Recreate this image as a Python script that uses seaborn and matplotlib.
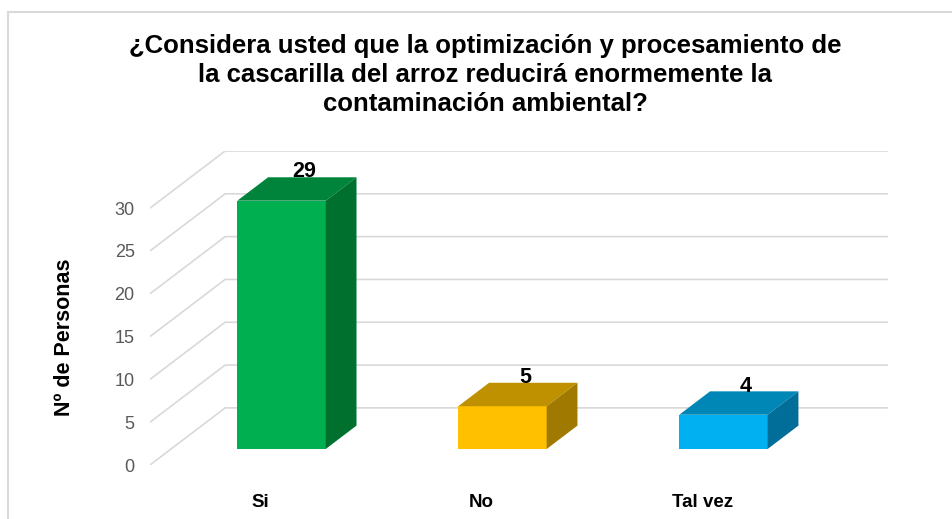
import pandas as pd
import numpy as np

import matplotlib
matplotlib.use("Agg")

import matplotlib.pyplot as plt
from matplotlib.patches import Polygon, Rectangle
import seaborn as sns

# datos
categorias = ["Si", "No", "Tal vez"]
personas = [29, 5, 4]
colores_frente = ["#00B050", "#FFC000", "#00B0F0"]
colores_tapa = ["#00843C", "#BF9000", "#0087B6"]
colores_lado = ["#00702F", "#A07A00", "#006E98"]
ticks_y = [0, 5, 10, 15, 20, 25, 30]
titulo = ("¿Considera usted que la optimización y procesamiento de\n"
          "la cascarilla del arroz reducirá enormemente la\n"
          "contaminación ambiental?")

sns.set_theme(style="white")
plt.rcParams['font.family'] = ['Liberation Sans', 'DejaVu Sans']

# perspectiva (desplazamiento del plano del fondo, en unidades de datos)
DX, DY = 0.34, 6.67
ANCHO = 0.4
P0, P1 = 0.28, 0.69  # profundidad de las barras

fig = plt.figure(figsize=(9.52, 5.19), dpi=100)
ax = fig.add_axes([150 / 952, 1 - 465 / 519, 738 / 952, 314 / 519])

df = pd.DataFrame({"cat": categorias, "n": personas})
sns.barplot(data=df, x="cat", y="n", hue="cat", palette=colores_frente,
            width=ANCHO, saturation=1, legend=False, ax=ax, zorder=3)

# caras superior y lateral
for i, p in enumerate(ax.patches):
    h = personas[i]
    w = p.get_width()
    x0 = p.get_x() + P0 * DX
    y0 = P0 * DY
    p.set_x(x0)
    p.set_y(y0)
    p.set_linewidth(0)
    dd = P1 - P0
    tapa = [(x0, h + y0), (x0 + w, h + y0),
            (x0 + w + dd * DX, h + P1 * DY), (x0 + dd * DX, h + P1 * DY)]
    lado = [(x0 + w, y0), (x0 + w + dd * DX, P1 * DY),
            (x0 + w + dd * DX, h + P1 * DY), (x0 + w, h + y0)]
    ax.add_patch(Polygon(tapa, closed=True, fc=colores_tapa[i], ec="none", zorder=4))
    ax.add_patch(Polygon(lado, closed=True, fc=colores_lado[i], ec="none", zorder=4))
    cx = x0 + w / 2 + dd * DX / 2
    cy = h + (P0 + P1) / 2 * DY
    ax.annotate(str(h), xy=(cx, cy), xytext=(7, 17), textcoords="offset pixels",
                ha="center", va="center", fontsize=15.5, fontweight="bold",
                color="black", zorder=5)

# lineas de cuadricula en perspectiva
for v in ticks_y:
    ax.plot([-0.5, -0.5 + DX, 2.5 + DX], [v, v + DY, v + DY],
            color="#D9D9D9", lw=1.2, zorder=1, solid_capstyle="butt")

ax.set_xlim(-0.5, 2.5 + DX)
ax.set_ylim(0, 30 + DY)
for s in ax.spines.values():
    s.set_visible(False)

ax.set_yticks(ticks_y)
ax.set_yticklabels([str(t) for t in ticks_y], fontsize=13, color="#595959")
ax.set_xticks(range(len(categorias)))
ax.set_xticklabels(categorias, fontsize=13.5, fontweight="bold", color="black")
ax.tick_params(axis="y", length=0, pad=11)
ax.tick_params(axis="x", length=0, pad=21)
ax.set_xlabel("")
ax.set_ylabel("")

fig.text(65 / 952, 1 - 337 / 519, "Nº de Personas", rotation=90,
         ha="center", va="center", fontsize=15.5, fontweight="bold",
         color="black")
fig.text(485 / 952, 1 - 75 / 519, titulo, ha="center", va="center",
         fontsize=18.5, fontweight="bold", linespacing=1.28, color="black")

fig.add_artist(Rectangle((8 / 952, -0.1), 1.2, 1 - 12 / 519 + 0.1,
                         transform=fig.transFigure, fill=False,
                         ec="#D9D9D9", lw=1.5))

fig.savefig("out.png", dpi=100)
plt.close(fig)
